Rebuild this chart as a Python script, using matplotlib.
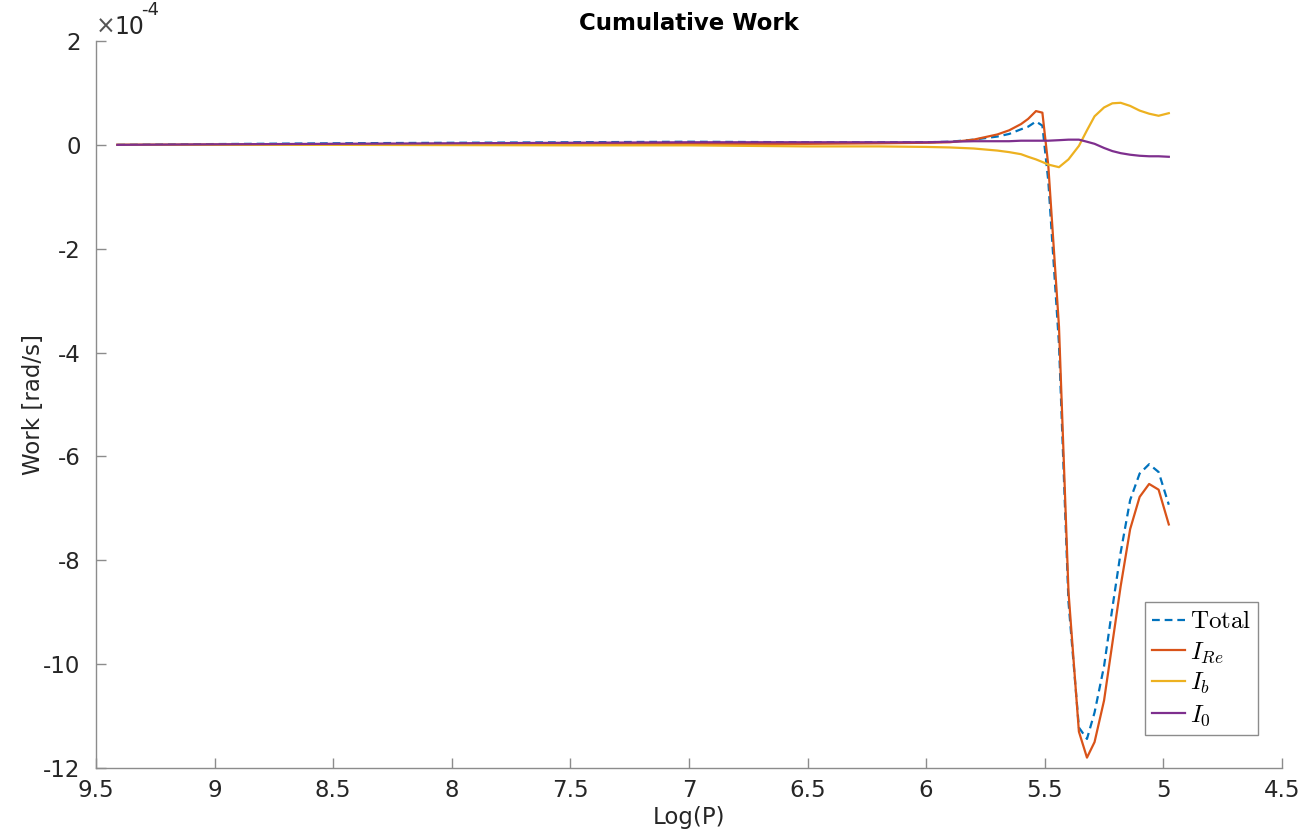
import matplotlib
matplotlib.use("Agg")
import matplotlib.pyplot as plt

# values in units of 1e-4 rad/s
logP = [9.41, 9.0, 8.5, 8.0, 7.5, 7.0, 6.5, 6.2, 6.0, 5.9, 5.8, 5.7, 5.65, 5.6, 5.57,
        5.537, 5.51, 5.485, 5.44, 5.40, 5.356, 5.322, 5.29, 5.25, 5.215, 5.18, 5.14,
        5.10, 5.06, 5.02, 4.977]
total = [0, 0.015, 0.03, 0.04, 0.05, 0.06, 0.05, 0.05, 0.05, 0.06, 0.1, 0.16, 0.21, 0.3, 0.35,
         0.45, 0.37, -0.7, -3.84, -8.8, -11.22, -11.44, -10.93, -10.04, -8.92, -7.85, -6.84,
         -6.33, -6.15, -6.30, -6.93]
I_Re = [0, 0.005, 0.01, 0.015, 0.02, 0.02, 0.02, 0.03, 0.04, 0.05, 0.1, 0.2, 0.28, 0.4, 0.5,
        0.65, 0.62, -0.4, -3.5, -8.6, -11.3, -11.8, -11.5, -10.7, -9.6, -8.5, -7.4,
        -6.78, -6.53, -6.64, -7.31]
I_b = [0, 0, 0, -0.005, -0.01, -0.01, -0.03, -0.03, -0.04, -0.05, -0.07, -0.11, -0.14, -0.18, -0.23,
       -0.28, -0.33, -0.38, -0.43, -0.28, -0.02, 0.28, 0.55, 0.72, 0.8, 0.81, 0.75,
       0.66, 0.6, 0.56, 0.61]
I_0 = [0, 0.01, 0.02, 0.03, 0.04, 0.05, 0.05, 0.05, 0.05, 0.06, 0.07, 0.07, 0.07, 0.08, 0.08,
       0.08, 0.08, 0.08, 0.09, 0.1, 0.1, 0.06, 0.02, -0.06, -0.12, -0.16, -0.19,
       -0.21, -0.22, -0.22, -0.23]

plt.rcParams['axes.unicode_minus'] = False
plt.rcParams['font.family'] = 'DejaVu Sans'
plt.rcParams['mathtext.fontset'] = 'cm'

fig = plt.figure(figsize=(13.02, 8.4), dpi=100)
ax = fig.add_axes([0.0737, 0.0857, 0.9109, 0.8655])

lw = 1.6
ax.plot(logP, total, color='#0072BD', lw=lw, dashes=(3.5, 2.2), label=r'$\mathrm{Total}$')
ax.plot(logP, I_Re, color='#D95319', lw=lw, label=r'$I_{Re}$')
ax.plot(logP, I_b, color='#EDB120', lw=lw, label=r'$I_b$')
ax.plot(logP, I_0, color='#7E2F8E', lw=lw, label=r'$I_0$')

ax.set_xlim(9.5, 4.5)
ax.set_ylim(-12, 2)
ax.set_xticks([9.5, 9, 8.5, 8, 7.5, 7, 6.5, 6, 5.5, 5, 4.5])
ax.set_xticklabels(['9.5', '9', '8.5', '8', '7.5', '7', '6.5', '6', '5.5', '5', '4.5'])
ax.set_yticks(range(-12, 3, 2))

for s in ['top', 'right']:
    ax.spines[s].set_visible(False)
for s in ['left', 'bottom']:
    ax.spines[s].set_color('#8c8c8c')
    ax.spines[s].set_linewidth(1.0)
ax.tick_params(direction='in', length=7, width=1.0, color='#8c8c8c',
               labelsize=16.5, labelcolor='#262626')
ax.tick_params(axis='x', pad=8)
ax.tick_params(axis='y', pad=11)

ax.set_xlabel('Log(P)', fontsize=16.5, color='#262626')
ax.set_ylabel('Work [rad/s]', fontsize=16.5, color='#262626')
ax.xaxis.set_label_coords(0.5, -0.052)
ax.yaxis.set_label_coords(-0.043, 0.5)
ax.set_title('Cumulative Work', fontsize=16.5, fontweight='bold', pad=8)

ax.text(0.0, 1.003, '×', transform=ax.transAxes, fontsize=17, color='#555555',
        ha='left', va='bottom')
ax.text(0.016, 1.003, '10', transform=ax.transAxes, fontsize=17, color='#262626',
        ha='left', va='bottom')
ax.text(0.0385, 1.03, '-4', transform=ax.transAxes, fontsize=13, color='#262626',
        ha='left', va='bottom')

leg = ax.legend(loc='lower right', bbox_to_anchor=(0.98, 0.045), fontsize=18,
                fancybox=False, framealpha=1, edgecolor='#8c8c8c',
                handlelength=1.3, handletextpad=0.2, borderpad=0.3,
                labelspacing=0.25, borderaxespad=0)
leg.get_frame().set_linewidth(1.0)

fig.savefig('out.png', dpi=100)
